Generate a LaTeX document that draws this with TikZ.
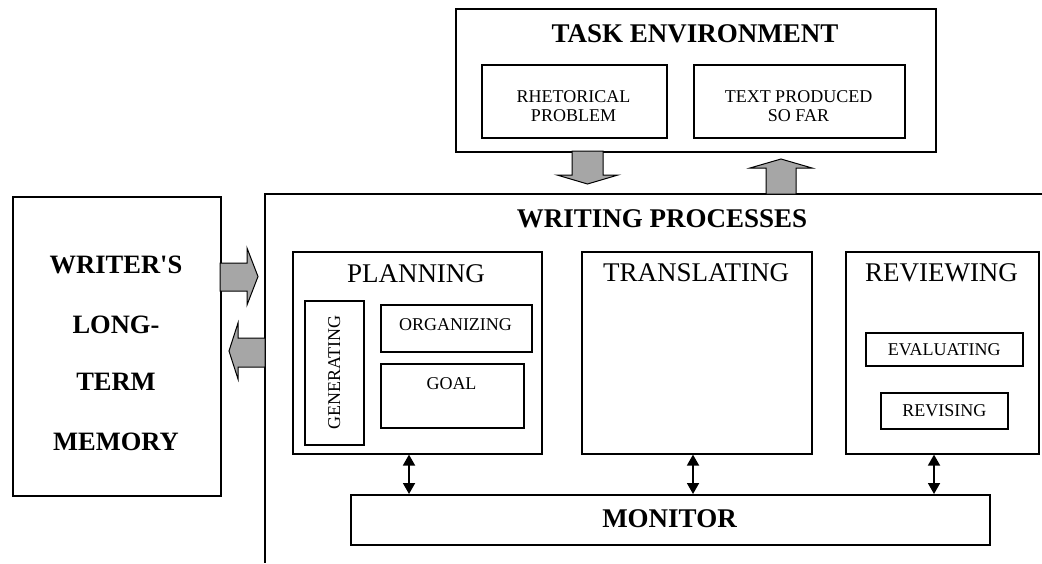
\documentclass[tikz,border=0pt]{standalone}
\usepackage{fontspec}
\setmainfont{Liberation Serif}
\usetikzlibrary{arrows.meta,calc}
\begin{document}
\begin{tikzpicture}[x=1pt,y=-1pt,
  box/.style={draw=black,line width=1.6pt,inner sep=0pt,anchor=north west},
  bigtitle/.style={inner sep=0pt,font=\fontsize{27}{32}\selectfont\bfseries},
  subtitle/.style={inner sep=0pt,font=\fontsize{27}{32}\selectfont},
  small/.style={inner sep=0pt,align=center,font=\fontsize{18}{19}\selectfont},
  ltmtext/.style={inner sep=0pt,font=\fontsize{26.5}{30}\selectfont\bfseries},
  blockarrow/.style={fill=black!35,draw=black,line width=1pt,line join=miter},
  dblarrow/.style={line width=1.8pt,{Triangle[width=12pt,length=11pt]}-{Triangle[width=12pt,length=11pt]}}]
\useasboundingbox (0,0) rectangle (1042,563);
\fill[white] (0,0) rectangle (1042,563);

% Task environment
\node[box,minimum width=480pt,minimum height=143pt] (te) at (455,8) {};
\node[bigtitle] (tetitle) at (695,33.5) {TASK ENVIRONMENT};
\node[box,minimum width=185pt,minimum height=73pt] (rhet) at (481,64) {};
\node[small] (rhettext) at (573.5,106) {RHETORICAL\\PROBLEM};
\node[box,minimum width=211pt,minimum height=73pt] (tpsf) at (693,64) {};
\node[small] (tpsftext) at (798.5,106) {TEXT PRODUCED\\SO FAR};

% Long-term memory
\node[box,minimum width=208pt,minimum height=299pt] (ltm) at (12,196) {};
\node[ltmtext] (l1) at (116,265) {WRITER\textquotesingle S};
\node[ltmtext] (l2) at (116,325) {LONG-};
\node[ltmtext] (l3) at (116,382) {TERM};
\node[ltmtext] (l4) at (116,442) {MEMORY};

% Writing processes (open frame)
\coordinate (wpr) at (1042,194);
\coordinate (wptl) at (265,194);
\coordinate (wpb) at (265,563);
\draw[line width=1.6pt] (wpr) -- (wptl) -- (wpb);
\node[bigtitle] (wptitle) at (662,219) {WRITING PROCESSES};

% Planning
\node[box,minimum width=249pt,minimum height=202pt] (plan) at (292,251) {};
\node[subtitle] (plantitle) at (416,274) {PLANNING};
\node[box,minimum width=59pt,minimum height=144pt] (gen) at (304,300) {};
\node[small,rotate=90] (gentext) at (gen.center) {GENERATING};
\node[box,minimum width=151pt,minimum height=47pt] (org) at (380,304) {};
\node[small] (orgtext) at (455.5,325) {ORGANIZING};
\node[box,minimum width=143pt,minimum height=64pt] (goal) at (380,363) {};
\node[small] (goaltext) at (451.5,384) {GOAL};

% Translating
\node[box,minimum width=230pt,minimum height=202pt] (trans) at (581,251) {};
\node[subtitle] (transtitle) at (696,273) {TRANSLATING};

% Reviewing
\node[box,minimum width=193pt,minimum height=202pt] (rev) at (845,251) {};
\node[subtitle] (revtitle) at (941.5,273) {REVIEWING};
\node[box,minimum width=157pt,minimum height=33pt] (eval) at (865,332) {};
\node[small] (evaltext) at (eval.center) {EVALUATING};
\node[box,minimum width=127pt,minimum height=36pt] (revis) at (880,392) {};
\node[small] (revistext) at (revis.center) {REVISING};

% Monitor
\node[box,minimum width=639pt,minimum height=50pt] (mon) at (350,494) {};
\node[bigtitle] (montext) at (669.5,519) {MONITOR};

% Block arrows
\draw[blockarrow] (220,263) -- (247,263) -- (247,248) -- (258,276.5) -- (247,305) -- (247,291) -- (220,291) -- cycle;
\draw[blockarrow] (265,338) -- (238,338) -- (238,323) -- (229,351) -- (238,379) -- (238,367) -- (265,367) -- cycle;
\draw[blockarrow] (572,151) -- (572,175) -- (557,175) -- (587.5,184) -- (618,175) -- (603,175) -- (603,151) -- cycle;
\draw[blockarrow] (766,194) -- (766,168) -- (750,168) -- (781,159) -- (812,168) -- (796,168) -- (796,194) -- cycle;

% Monitor links
\coordinate (x1) at (409,0);
\coordinate (x2) at (693,0);
\coordinate (x3) at (934,0);
\draw[dblarrow] (plan.south -| x1) -- (mon.north -| x1);
\draw[dblarrow] (trans.south -| x2) -- (mon.north -| x2);
\draw[dblarrow] (rev.south -| x3) -- (mon.north -| x3);
\end{tikzpicture}
\end{document}
